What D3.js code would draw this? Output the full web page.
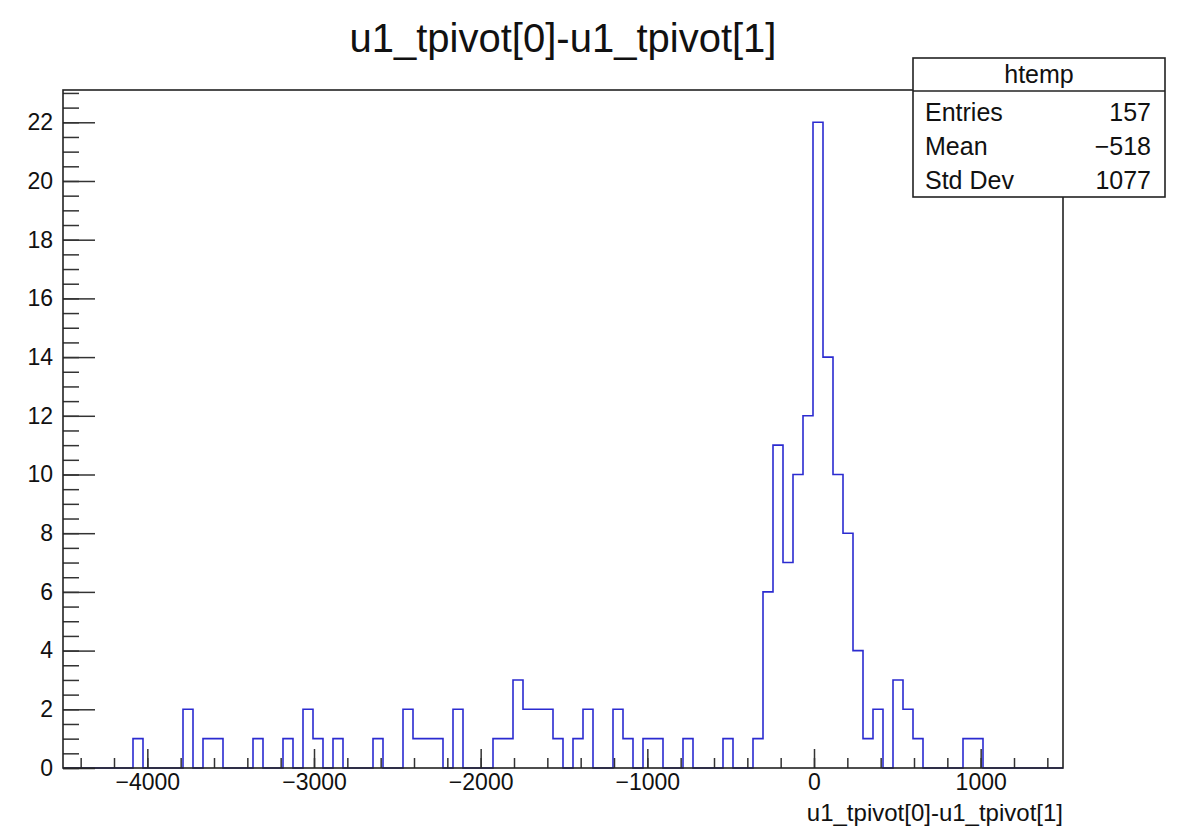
<!DOCTYPE html>
<html>
<head>
<meta charset="utf-8">
<script src="https://cdn.jsdelivr.net/npm/d3@7"></script>
<style>
  html, body { margin: 0; padding: 0; background: #fff; }
  text { font-family: "Liberation Sans", Arial, Helvetica, sans-serif; fill: #111; }
</style>
</head>
<body>
<svg id="chart" width="1181" height="826"></svg>
<script>
// ---- data ----
const histTitle = "u1_tpivot[0]-u1_tpivot[1]";
const xAxisTitle = "u1_tpivot[0]-u1_tpivot[1]";
const xRange = [-4506, 1494];          // histogram axis range (100 bins)
const binCounts = [
  0,0,0,0,0,0,0,1,0,0,
  0,0,2,0,1,1,0,0,0,1,
  0,0,1,0,2,1,0,1,0,0,
  0,1,0,0,2,1,1,1,0,2,
  0,0,0,1,1,3,2,2,2,1,
  0,1,2,0,0,2,1,0,1,1,
  0,0,1,0,0,0,1,0,0,1,
  6,11,7,10,12,22,14,10,8,4,
  1,2,0,3,2,1,0,0,0,0,
  1,1,0,0,0,0,0,0,0,0
];
const yMax = 23.1;
const xMajorTicks = [-4000, -3000, -2000, -1000, 0, 1000];
const xMinorTicks = d3.range(-4400, 1401, 200);
const yMajorTicks = [0, 2, 4, 6, 8, 10, 12, 14, 16, 18, 20, 22];
const yMinorTicks = d3.range(0, 23.01, 0.5);
const statsName = "htemp";
const statsLabels = ["Entries", "Mean", "Std Dev"];
const statsValues = ["157", "\u2212518", "1077"];

// ---- layout ----
const svg = d3.select("#chart");
const fx0 = 63, fx1 = 1063, fy0 = 90, fy1 = 768;

const x = d3.scaleLinear().domain(xRange).range([fx0, fx1]);
const y = d3.scaleLinear().domain([0, yMax]).range([fy1, fy0]);

const nb = binCounts.length;
const bw = (xRange[1] - xRange[0]) / nb;

// histogram outline (step path)
let pts = [[x(xRange[0]), y(0)]];
binCounts.forEach((c, i) => {
  const a = xRange[0] + i * bw, b = a + bw;
  pts.push([x(a), y(c)]);
  pts.push([x(b), y(c)]);
});
pts.push([x(xRange[1]), y(0)]);
svg.append("path")
  .attr("d", d3.line()(pts))
  .attr("fill", "none")
  .attr("stroke", "#2b2bd0")
  .attr("stroke-width", 1.6);

// axes
const tickColor = "#333";
const gx = svg.append("g").attr("transform", `translate(0,${fy1})`);
gx.call(d3.axisBottom(x).tickValues(xMinorTicks).tickSize(-10).tickFormat(""));
const gxM = svg.append("g").attr("transform", `translate(0,${fy1})`);
gxM.call(d3.axisBottom(x).tickValues(xMajorTicks).tickSize(-19).tickPadding(6)
  .tickFormat(d => d < 0 ? "\u2212" + Math.abs(d) : String(d)));

const gy = svg.append("g").attr("transform", `translate(${fx0},0)`);
gy.call(d3.axisLeft(y).tickValues(yMinorTicks).tickSize(-16).tickFormat(""));
const gyM = svg.append("g").attr("transform", `translate(${fx0},0)`);
gyM.call(d3.axisLeft(y).tickValues(yMajorTicks).tickSize(-32).tickPadding(10));

[gx, gxM, gy, gyM].forEach(g => {
  g.select(".domain").remove();
  g.selectAll("line").attr("stroke", tickColor).attr("stroke-width", 1.5);
  g.selectAll("text").style("font-size", "23px").style("font-family", "'Liberation Sans', Arial, sans-serif").attr("fill", "#111");
});

// frame
svg.append("rect")
  .attr("x", fx0).attr("y", fy0).attr("width", fx1 - fx0).attr("height", fy1 - fy0)
  .attr("fill", "none").attr("stroke", "#222").attr("stroke-width", 1.6);

// title
svg.append("text")
  .attr("x", 563).attr("y", 52)
  .attr("text-anchor", "middle")
  .style("font-size", "40px")
  .text(histTitle);

// x axis title
svg.append("text")
  .attr("x", fx1).attr("y", 821)
  .attr("text-anchor", "end")
  .style("font-size", "24px")
  .text(xAxisTitle);

// stats box
const sb = { x: 913, y: 58, w: 252, h: 139, hh: 33 };
svg.append("rect")
  .attr("x", sb.x).attr("y", sb.y).attr("width", sb.w).attr("height", sb.h)
  .attr("fill", "#fff").attr("stroke", "#222").attr("stroke-width", 1.6);
svg.append("line")
  .attr("x1", sb.x).attr("x2", sb.x + sb.w)
  .attr("y1", sb.y + sb.hh).attr("y2", sb.y + sb.hh)
  .attr("stroke", "#222").attr("stroke-width", 1.6);
svg.append("text")
  .attr("x", sb.x + sb.w / 2).attr("y", sb.y + 25)
  .attr("text-anchor", "middle")
  .style("font-size", "25px")
  .text(statsName);
statsLabels.forEach((lab, i) => {
  const by = 121 + i * 34;
  svg.append("text").attr("x", sb.x + 12).attr("y", by)
    .style("font-size", "25px").text(lab);
  svg.append("text").attr("x", sb.x + sb.w - 14).attr("y", by)
    .attr("text-anchor", "end")
    .style("font-size", "25px").text(statsValues[i]);
});
</script>
</body>
</html>
